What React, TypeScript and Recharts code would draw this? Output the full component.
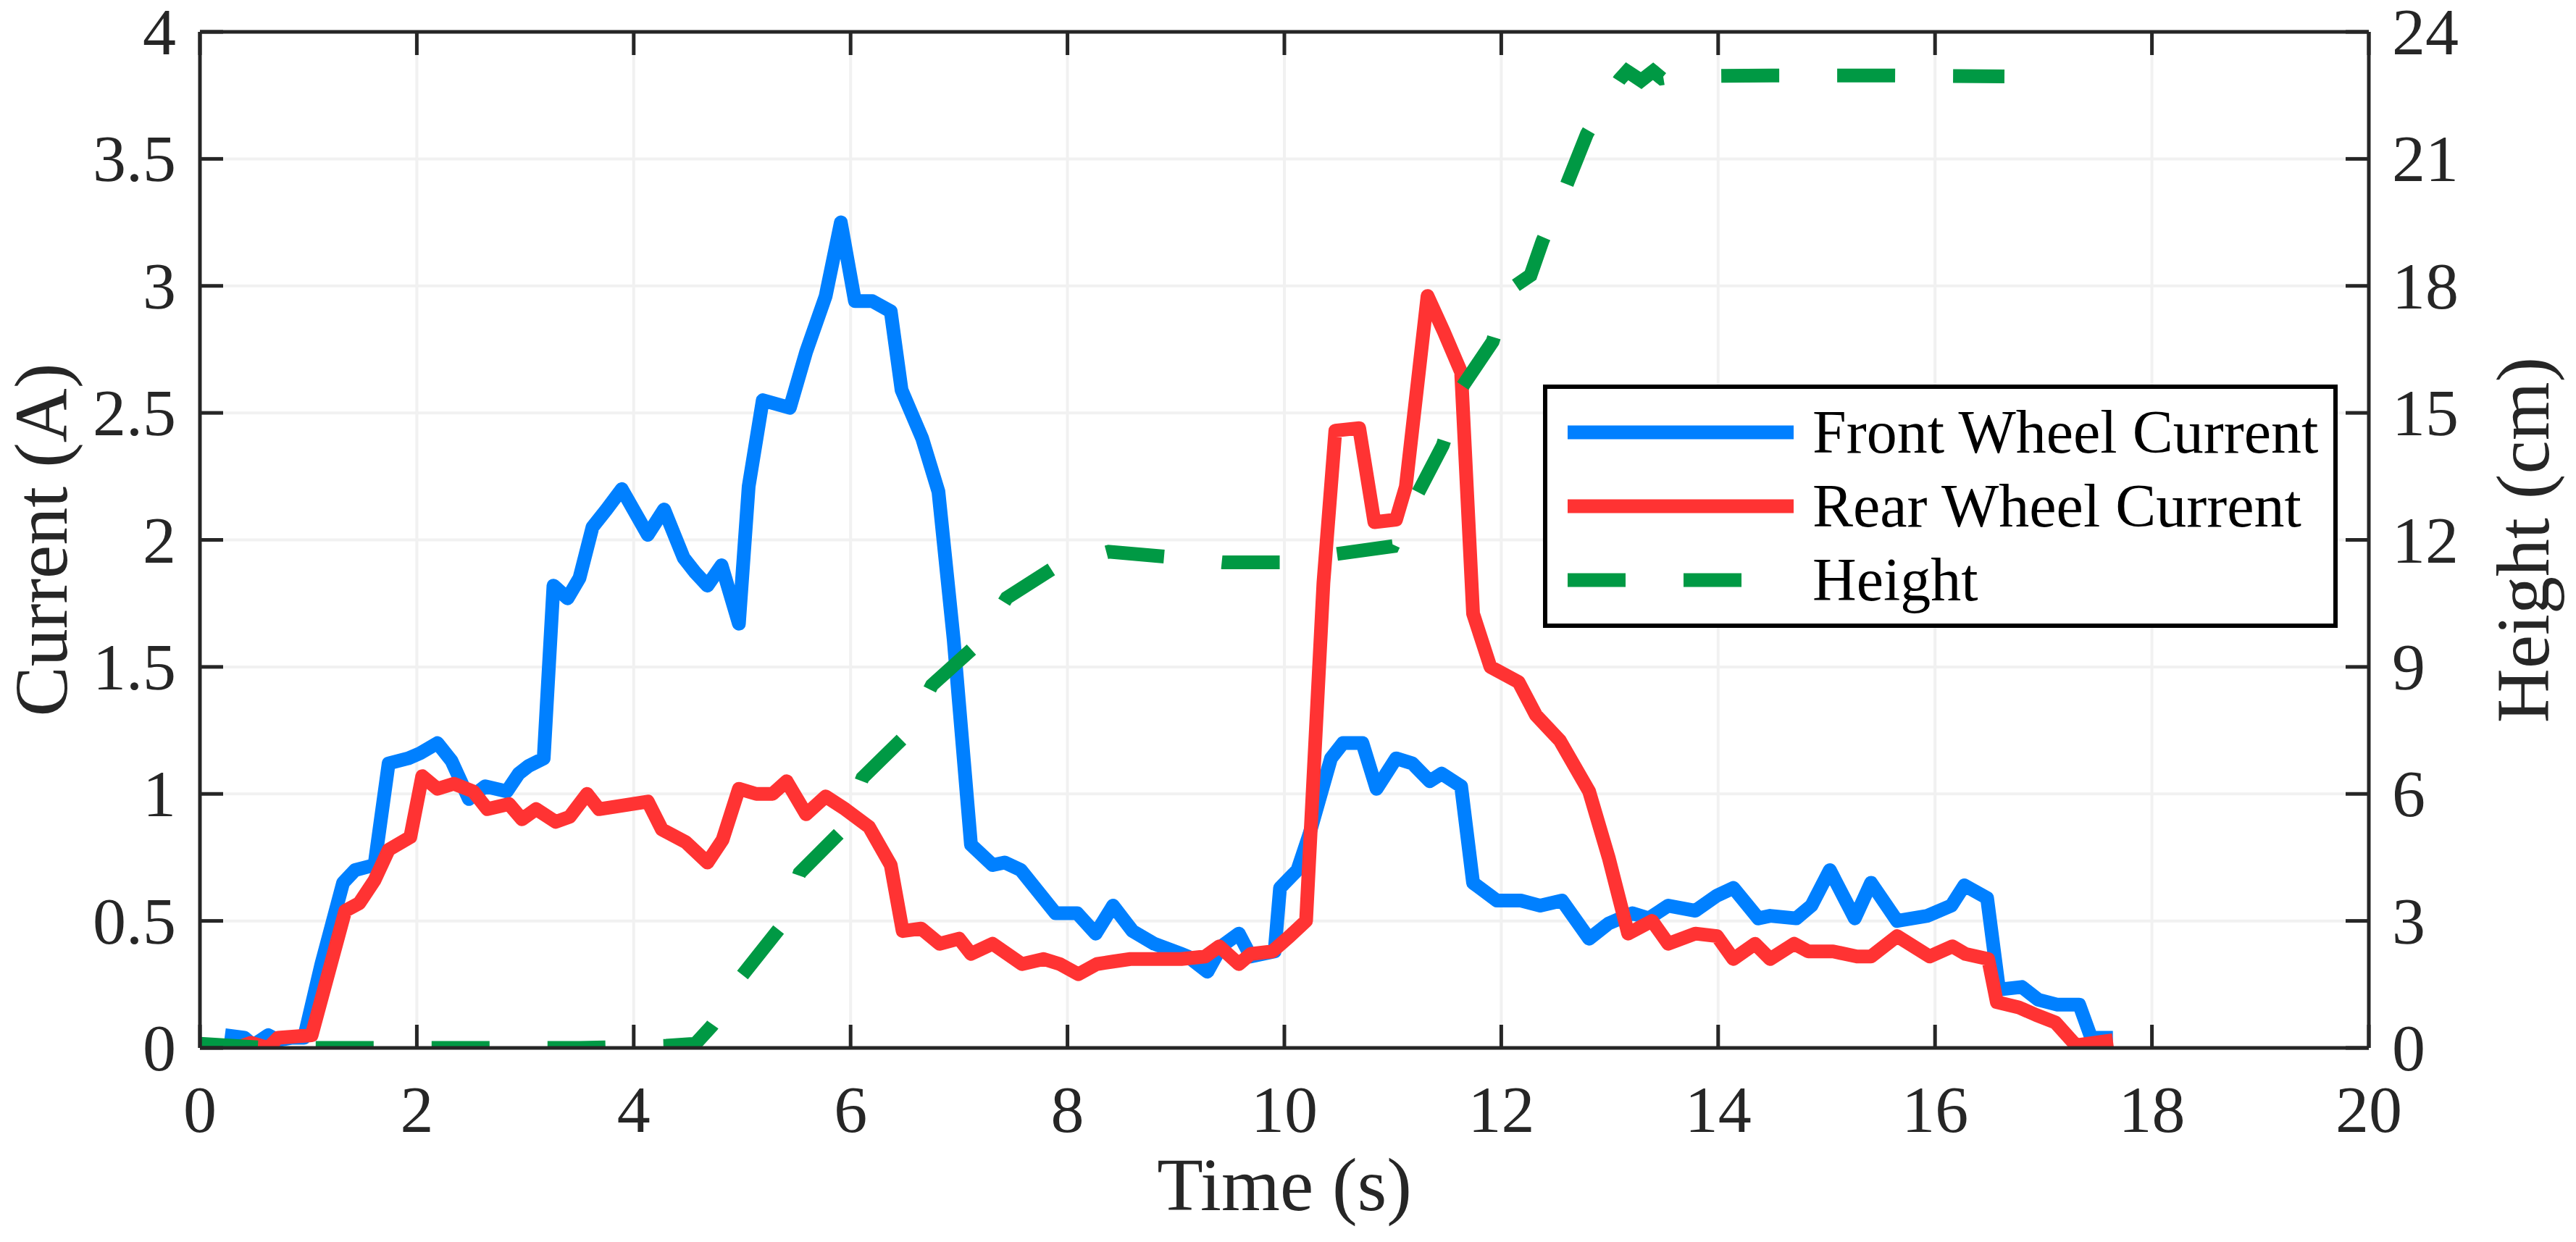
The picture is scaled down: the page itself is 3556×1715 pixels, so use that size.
import React from 'react';
import {
  LineChart,
  Line,
  XAxis,
  YAxis,
  CartesianGrid,
  Legend,
} from 'recharts';

document.body.style.margin = '0';

const timeTicks = [0, 2, 4, 6, 8, 10, 12, 14, 16, 18, 20];
const currentTicks = [0, 0.5, 1, 1.5, 2, 2.5, 3, 3.5, 4];
const heightTicks = [0, 3, 6, 9, 12, 15, 18, 21, 24];

const seriesNames = ['Front Wheel Current', 'Rear Wheel Current', 'Height'];

const frontTime = [
  0.23, 0.41, 0.49, 0.63, 0.72, 0.85, 0.96, 1.12, 1.32, 1.43, 1.61, 1.74, 1.92,
  2.03, 2.19, 2.32, 2.48, 2.63, 2.83, 2.94, 3.03, 3.17, 3.26, 3.39, 3.5, 3.62,
  3.75, 3.89, 4.13, 4.28, 4.46, 4.57, 4.68, 4.81, 4.97, 5.06, 5.19, 5.44, 5.59,
  5.77, 5.91, 6.04, 6.2, 6.37, 6.47, 6.66, 6.81, 6.95, 7.11, 7.31, 7.42, 7.57,
  7.89, 8.09, 8.26, 8.42, 8.6, 8.8, 9.05, 9.11, 9.29, 9.42, 9.58, 9.69, 9.91,
  9.96, 10.12, 10.23, 10.43, 10.54, 10.72, 10.85, 11.03, 11.18, 11.34, 11.45,
  11.63, 11.74, 11.96, 12.18, 12.36, 12.56, 12.81, 12.99, 13.21, 13.36, 13.54,
  13.79, 13.99, 14.14, 14.37, 14.48, 14.72, 14.86, 15.03, 15.26, 15.41, 15.65,
  15.93, 16.15, 16.27, 16.48, 16.59, 16.8, 16.95, 17.13, 17.33, 17.44, 17.64,
];
const frontCurrent = [
  0.05, 0.04, 0.01, 0.05, 0.03, 0.04, 0.04, 0.33, 0.65, 0.7, 0.72, 1.12, 1.14,
  1.16, 1.2, 1.13, 0.98, 1.03, 1.01, 1.08, 1.11, 1.14, 1.82, 1.77, 1.85, 2.05,
  2.12, 2.2, 2.02, 2.12, 1.93, 1.87, 1.82, 1.9, 1.67, 2.21, 2.55, 2.52, 2.74,
  2.96, 3.25, 2.94, 2.94, 2.9, 2.59, 2.4, 2.19, 1.61, 0.8, 0.72, 0.73, 0.7,
  0.53, 0.53, 0.45, 0.56, 0.46, 0.41, 0.37, 0.36, 0.3, 0.4, 0.45, 0.36, 0.38,
  0.63, 0.7, 0.84, 1.14, 1.2, 1.2, 1.02, 1.14, 1.12, 1.05, 1.08,
  1.03, 0.65, 0.58, 0.58, 0.56, 0.58, 0.43, 0.49, 0.53, 0.51, 0.56,
  0.54, 0.6, 0.63, 0.51, 0.52, 0.51, 0.56, 0.7, 0.51, 0.65, 0.5,
  0.52, 0.56, 0.64, 0.59, 0.23, 0.24, 0.19, 0.17, 0.17, 0.04, 0.04,
];

const rearTime = [
  0.34, 0.47, 0.63, 0.72, 1.03, 1.34, 1.47, 1.61, 1.74, 1.94, 2.05, 2.19, 2.34,
  2.52, 2.65, 2.85, 2.97, 3.1, 3.28, 3.41, 3.57, 3.68, 4.13, 4.26, 4.48, 4.68,
  4.82, 4.97, 5.13, 5.28, 5.41, 5.59, 5.77, 5.95, 6.17, 6.37, 6.48, 6.65, 6.82,
  7.0, 7.11, 7.31, 7.58, 7.78, 7.93, 8.1, 8.27, 8.42, 8.58, 9.05, 9.27, 9.4,
  9.58, 9.69, 9.89, 10.05, 10.2, 10.36, 10.47, 10.69, 10.83, 11.03, 11.12,
  11.32, 11.47, 11.63, 11.74, 11.9, 12.16, 12.32, 12.54, 12.81, 12.99, 13.17,
  13.39, 13.54, 13.79, 13.99, 14.14, 14.34, 14.48, 14.7, 14.83, 15.06, 15.28,
  15.41, 15.65, 15.95, 16.16, 16.28, 16.49, 16.57, 16.77, 16.93, 17.11, 17.3,
  17.64,
];
const rearCurrent = [
  0.0, 0.02, 0.0, 0.04, 0.05, 0.54, 0.57, 0.66, 0.78, 0.83, 1.07, 1.02, 1.04,
  1.01, 0.94, 0.96, 0.9, 0.94, 0.89, 0.91, 1.0, 0.94, 0.97, 0.86, 0.81, 0.73,
  0.82, 1.02, 1.0, 1.0, 1.05, 0.92, 0.99, 0.94, 0.87, 0.72, 0.46, 0.47, 0.41,
  0.43, 0.37, 0.41, 0.33, 0.35, 0.33, 0.29, 0.33, 0.34, 0.35, 0.35, 0.36, 0.4,
  0.33, 0.37, 0.38, 0.44, 0.5, 1.83, 2.43, 2.44, 2.07, 2.08, 2.21,
  2.96, 2.82, 2.66, 1.71, 1.5, 1.44, 1.31, 1.21, 1.01, 0.75, 0.45,
  0.5, 0.41, 0.45, 0.44, 0.35, 0.41, 0.35, 0.41, 0.38, 0.38, 0.36,
  0.36, 0.44, 0.36, 0.4, 0.37, 0.35, 0.18, 0.16, 0.13, 0.1, 0.01,
  0.03,
];

const heightTime = [
  0.0, 0.6, 1.5, 2.5, 3.5, 4.3, 4.57, 4.72, 4.85, 4.99, 5.35, 5.53, 5.93, 6.11,
  6.52, 6.75, 7.18, 7.44, 7.91, 8.38, 8.92, 9.43, 9.96, 10.46, 11.0, 11.21,
  11.46, 11.63, 11.92, 12.07, 12.27, 12.38, 12.6, 12.79, 12.95, 13.09, 13.16,
  13.29, 13.4, 13.48, 13.6, 14.5, 15.5, 16.64,
];
const heightCm = [
  0.1, 0.0, 0.0, 0.0, 0.0, 0.05, 0.1, 0.52, 1.0, 1.68, 2.84, 4.13, 5.16, 6.38,
  7.41, 8.57, 9.56, 10.63, 11.4, 11.72, 11.6, 11.47, 11.47, 11.66, 11.85, 13.0,
  14.23, 15.58, 16.68, 17.9, 18.25, 19.06, 20.37, 21.59, 22.3, 22.87, 23.07,
  22.85, 23.07, 22.9, 22.95, 22.97, 22.97, 22.95,
];

const frontData = frontTime.map((t, i) => ({ t, value: frontCurrent[i] }));
const rearData = rearTime.map((t, i) => ({ t, value: rearCurrent[i] }));
const heightData = heightTime.map((t, i) => ({ t, value: heightCm[i] }));

const FONT = '"Liberation Serif", "Times New Roman", Times, serif';
const AXIS = '#262626';
const TICK_LEN = 32;
const TICK_FONT = 92;
const LABEL_FONT = 104;
const LINE_W = 19;

const colors: Record<string, string> = {
  'Front Wheel Current': '#0080ff',
  'Rear Wheel Current': '#ff3333',
  Height: '#009944',
};
const dashes: Record<string, string | undefined> = {
  'Front Wheel Current': undefined,
  'Rear Wheel Current': undefined,
  Height: '80 80',
};

const BottomTick = (props: any) => {
  const { x, y, payload } = props;
  return (
    <g>
      <line x1={x} y1={y} x2={x} y2={y - TICK_LEN} stroke={AXIS} strokeWidth={5} />
      <text
        x={x}
        y={y + 116}
        textAnchor="middle"
        fontSize={TICK_FONT}
        fontFamily={FONT}
        fill={AXIS}
      >
        {payload.value}
      </text>
    </g>
  );
};

const TopTick = (props: any) => {
  const { x, y } = props;
  return <line x1={x} y1={y} x2={x} y2={y + TICK_LEN} stroke={AXIS} strokeWidth={5} />;
};

const LeftTick = (props: any) => {
  const { x, y, payload } = props;
  return (
    <g>
      <line x1={x} y1={y} x2={x + TICK_LEN} y2={y} stroke={AXIS} strokeWidth={5} />
      <text
        x={x - 33}
        y={y + 31}
        textAnchor="end"
        fontSize={TICK_FONT}
        fontFamily={FONT}
        fill={AXIS}
      >
        {payload.value}
      </text>
    </g>
  );
};

const RightTick = (props: any) => {
  const { x, y, payload } = props;
  return (
    <g>
      <line x1={x} y1={y} x2={x - TICK_LEN} y2={y} stroke={AXIS} strokeWidth={5} />
      <text
        x={x + 32}
        y={y + 31}
        textAnchor="start"
        fontSize={TICK_FONT}
        fontFamily={FONT}
        fill={AXIS}
      >
        {payload.value}
      </text>
    </g>
  );
};

const axisTitle = (text: string, dx: number, dy: number, rotate: boolean) => (props: any) => {
  const vb = props.viewBox || { x: 0, y: 0, width: 0, height: 0 };
  const cx = vb.x + dx;
  const cy = rotate ? vb.y + vb.height / 2 : vb.y + dy;
  const tx = rotate ? cx : vb.x + vb.width / 2;
  return (
    <text
      x={tx}
      y={cy}
      textAnchor="middle"
      fontSize={LABEL_FONT}
      fontFamily={FONT}
      fill={AXIS}
      transform={rotate ? `rotate(-90 ${tx} ${cy})` : undefined}
    >
      {text}
    </text>
  );
};

const LegendBox = (props: any) => {
  const payload: any[] = props.payload || [];
  const items = seriesNames
    .map((n) => payload.find((p) => p.value === n))
    .filter(Boolean);
  return (
    <svg width={1097} height={336} style={{ display: 'block' }}>
      <rect x={3} y={3} width={1091} height={330} fill="#ffffff" stroke="#000000" strokeWidth={6} />
      {items.map((p: any, i: number) => {
        const ly = 66 + i * 102;
        return (
          <g key={p.value}>
            <line
              x1={34}
              x2={346}
              y1={ly}
              y2={ly}
              stroke={colors[p.value]}
              strokeWidth={LINE_W}
              strokeDasharray={dashes[p.value]}
            />
            <text
              x={372}
              y={ly + 28}
              fontSize={84}
              fontFamily={FONT}
              fill="#000000"
            >
              {p.value}
            </text>
          </g>
        );
      })}
    </svg>
  );
};

const App: React.FC = () => {
  return (
    <div style={{ width: 3556, height: 1715, overflow: 'hidden', background: '#ffffff' }}>
      <LineChart
        width={3556}
        height={1715}
        margin={{ top: 43, right: 0, bottom: 0, left: 0 }}
      >
        <CartesianGrid stroke="#f1f1f1" strokeWidth={4} />

        <XAxis
          dataKey="t"
          type="number"
          domain={[0, 20]}
          ticks={timeTicks}
          interval={0}
          allowDataOverflow
          height={268}
          tickSize={0}
          tickMargin={0}
          tick={<BottomTick />}
          stroke={AXIS}
          strokeWidth={5}
          label={{ content: axisTitle('Time (s)', 0, 224, false) }}
        />
        <XAxis
          xAxisId="top"
          orientation="top"
          dataKey="t"
          type="number"
          domain={[0, 20]}
          ticks={timeTicks}
          interval={0}
          allowDataOverflow
          height={1}
          tickSize={0}
          tickMargin={0}
          tick={<TopTick />}
          stroke={AXIS}
          strokeWidth={5}
        />
        <YAxis
          type="number"
          domain={[0, 4]}
          ticks={currentTicks}
          interval={0}
          allowDataOverflow
          width={276}
          tickSize={0}
          tickMargin={0}
          tick={<LeftTick />}
          stroke={AXIS}
          strokeWidth={5}
          label={{ content: axisTitle('Current (A)', 92, 0, true) }}
        />
        <YAxis
          yAxisId="right"
          orientation="right"
          type="number"
          domain={[0, 24]}
          ticks={heightTicks}
          interval={0}
          allowDataOverflow
          width={286}
          tickSize={0}
          tickMargin={0}
          tick={<RightTick />}
          stroke={AXIS}
          strokeWidth={5}
          label={{ content: axisTitle('Height (cm)', 248, 0, true) }}
        />

        <Line
          data={frontData}
          dataKey="value"
          name={seriesNames[0]}
          type="linear"
          stroke={colors[seriesNames[0]]}
          strokeWidth={LINE_W}
          strokeLinejoin="round"
          dot={false}
          activeDot={false}
          isAnimationActive={false}
        />
        <Line
          data={rearData}
          dataKey="value"
          name={seriesNames[1]}
          type="linear"
          stroke={colors[seriesNames[1]]}
          strokeWidth={LINE_W}
          strokeLinejoin="round"
          dot={false}
          activeDot={false}
          isAnimationActive={false}
        />
        <Line
          data={heightData}
          dataKey="value"
          yAxisId="right"
          name={seriesNames[2]}
          type="linear"
          stroke={colors[seriesNames[2]]}
          strokeWidth={LINE_W}
          strokeDasharray={dashes[seriesNames[2]]}
          dot={false}
          activeDot={false}
          isAnimationActive={false}
        />

        <Legend
          layout="horizontal"
          verticalAlign="middle"
          align="center"
          content={<LegendBox />}
          wrapperStyle={{ left: 2130, top: 531, width: 1097, height: 336 }}
        />
      </LineChart>
    </div>
  );
};

export default App;
